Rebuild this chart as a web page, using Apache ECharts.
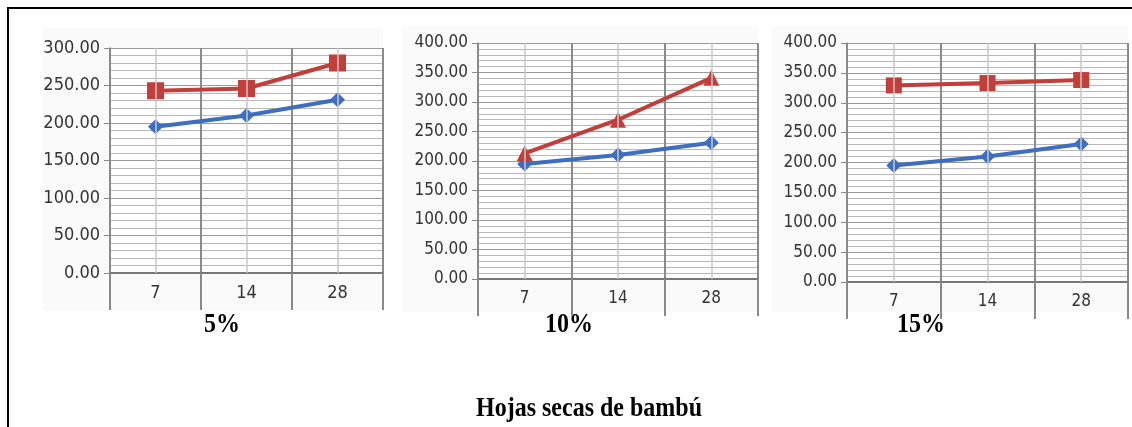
<!DOCTYPE html>
<html>
<head>
<meta charset="utf-8">
<script src="https://cdn.jsdelivr.net/npm/echarts@6/dist/echarts.min.js"></script>
<style>
  html, body { margin: 0; padding: 0; background: #ffffff; }
  #chart { width: 1132px; height: 427px; }
</style>
</head>
<body>
<div id="chart"></div>
<script>
// Curing ages (days)
const days = ['7', '14', '28'];
// Control mix, same in every panel
const control = [195, 210, 231];
// Mixes with dry bamboo leaves at 5 %, 10 % and 15 %
const mix5 = [243, 246, 280];
const mix10 = [213, 270, 341];
const mix15 = [329, 333, 338];
const panelLabels = ['5%', '10%', '15%'];
const yMax = [300, 400, 400];
const bottomTitle = 'Hojas secas de bambú';

const blue = '#3d6ebf';
const red = '#c13e3b';

const grids = [
  { left: 110, top: 48, width: 273, height: 225 },
  { left: 478, top: 43, width: 280, height: 236 },
  { left: 847, top: 43, width: 281, height: 239 }
];
const areas = [
  { x: 43, y: 28, w: 340, h: 283 },
  { x: 402, y: 26, w: 356, h: 286 },
  { x: 772, y: 26, w: 356, h: 286 }
];
const tickFonts = [
  { family: '"Liberation Sans Narrow", "DejaVu Sans Condensed", sans-serif', size: 18 },
  { family: '"DejaVu Sans Condensed", "Liberation Sans", sans-serif', size: 17 },
  { family: '"DejaVu Sans Condensed", "Liberation Sans", sans-serif', size: 17 }
];
const mixes = [mix5, mix10, mix15];
const redSymbols = ['rect', 'triangle', 'rect'];
const redSizes = [17, 16, 16];

const chart = echarts.init(document.getElementById('chart'));

const option = {
  animation: false,
  backgroundColor: '#ffffff',
  grid: grids.map(g => Object.assign({ show: true, backgroundColor: '#ffffff', borderWidth: 0 }, g)),
  xAxis: grids.map((g, i) => ({
    type: 'category',
    gridIndex: i,
    data: days,
    boundaryGap: true,
    axisLine: { show: true, lineStyle: { color: '#777777', width: 2 } },
    axisTick: { show: true, length: 37, lineStyle: { color: '#8a8a8a', width: 2 } },
    splitLine: { show: true, lineStyle: { color: '#8a8a8a', width: 2 } },
    axisLabel: {
      margin: 11,
      fontFamily: tickFonts[i].family,
      fontSize: tickFonts[i].size,
      color: '#333333'
    }
  })),
  yAxis: grids.map((g, i) => ({
    type: 'value',
    gridIndex: i,
    min: 0,
    max: yMax[i],
    interval: 50,
    axisLine: { show: true, lineStyle: { color: '#8a8a8a', width: 1.5 } },
    axisTick: { show: true, length: 6, lineStyle: { color: '#8a8a8a' } },
    splitLine: { show: true, lineStyle: { color: '#9a9a9a', width: 1 } },
    minorTick: { show: false, splitNumber: 5 },
    minorSplitLine: { show: true, lineStyle: { color: '#b8b8b8', width: 1 } },
    axisLabel: {
      margin: 10,
      fontFamily: tickFonts[i].family,
      fontSize: tickFonts[i].size,
      color: '#333333',
      formatter: v => v.toFixed(2)
    }
  })),
  series: [],
  graphic: []
};

grids.forEach((g, i) => {
  // light guide lines through each category centre
  option.series.push({
    type: 'line',
    xAxisIndex: i,
    yAxisIndex: i,
    data: control,
    symbol: 'none',
    lineStyle: { opacity: 0 },
    silent: true,
    z: 1,
    markLine: {
      silent: true,
      symbol: 'none',
      label: { show: false },
      lineStyle: { color: '#c8c8c8', width: 1.5, type: 'solid' },
      data: days.map(d => ({ xAxis: d }))
    }
  });
  option.series.push({
    type: 'line',
    name: 'Patrón',
    xAxisIndex: i,
    yAxisIndex: i,
    data: control,
    symbol: 'diamond',
    symbolSize: 15,
    lineStyle: { color: blue, width: 4 },
    itemStyle: { color: blue },
    z: 3
  });
  option.series.push({
    type: 'line',
    name: panelLabels[i],
    xAxisIndex: i,
    yAxisIndex: i,
    data: mixes[i],
    symbol: redSymbols[i],
    symbolSize: redSizes[i],
    lineStyle: { color: red, width: 4 },
    itemStyle: { color: red },
    z: 4
  });
});

// chart-area backgrounds behind each panel
areas.forEach(a => {
  option.graphic.push({
    type: 'rect',
    z: -10,
    shape: { x: a.x, y: a.y, width: a.w, height: a.h },
    style: { fill: '#fafafa' }
  });
});

// frame: left and top rules
option.graphic.push({
  type: 'line',
  shape: { x1: 8, y1: 8, x2: 8, y2: 427 },
  style: { stroke: '#000000', lineWidth: 2 }
});
option.graphic.push({
  type: 'line',
  shape: { x1: 7, y1: 8, x2: 1132, y2: 8 },
  style: { stroke: '#000000', lineWidth: 2 }
});

// panel captions and the shared title, in a tall bold serif
const serifBold = 'bold 24px "Liberation Serif", "Times New Roman", serif';
const captionX = [222, 569, 921];
panelLabels.forEach((t, i) => {
  option.graphic.push({
    type: 'text',
    x: captionX[i],
    y: 325,
    scaleY: 1.15,
    style: {
      text: t,
      font: serifBold,
      fill: '#000000',
      textAlign: 'center',
      textVerticalAlign: 'middle'
    }
  });
});
option.graphic.push({
  type: 'text',
  x: 589,
  y: 409,
  scaleY: 1.15,
  style: {
    text: bottomTitle,
    font: serifBold,
    fill: '#000000',
    textAlign: 'center',
    textVerticalAlign: 'middle'
  }
});

chart.setOption(option);
</script>
</body>
</html>
